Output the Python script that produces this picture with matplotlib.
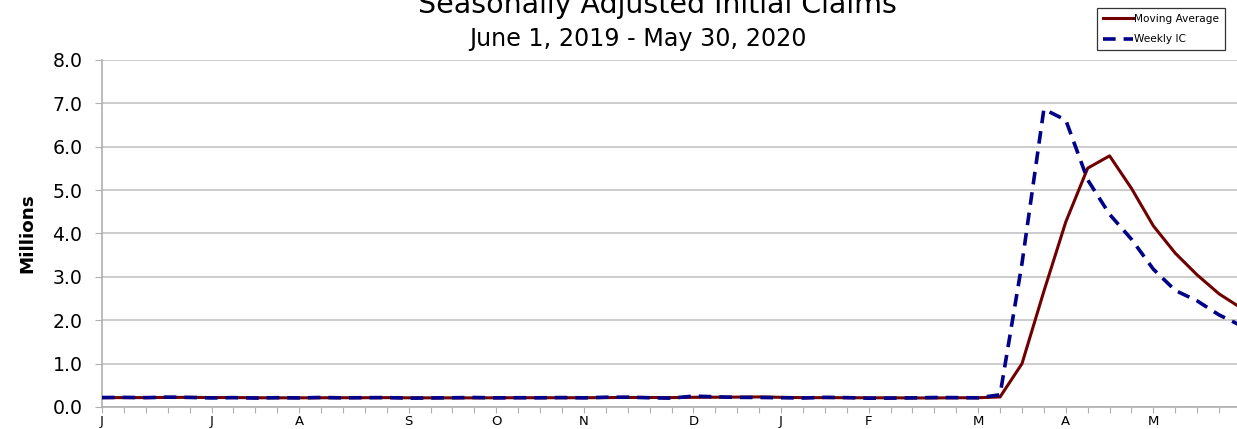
import numpy as np
import pandas as pd
import matplotlib
matplotlib.use('Agg')
import matplotlib.pyplot as plt

plt.rcParams['font.family'] = ['DejaVu Sans']

# Недели (окончание в субботу), 1 июня 2019 - 30 мая 2020
weeks = pd.date_range('2019-06-01', '2020-05-30', freq='W-SAT')

# Первичные заявки, млн (сезонно скорректированные)
weekly_ic = [0.218, 0.222, 0.216, 0.227, 0.221, 0.209, 0.216, 0.206, 0.215,
             0.209, 0.220, 0.211, 0.215, 0.217, 0.204, 0.208, 0.213, 0.219,
             0.210, 0.214, 0.212, 0.218, 0.211, 0.225, 0.227, 0.213, 0.203,
             0.252, 0.235, 0.222, 0.220, 0.214, 0.207, 0.223, 0.216, 0.203,
             0.205, 0.210, 0.219, 0.216, 0.211, 0.282, 3.307, 6.867, 6.615,
             5.237, 4.442, 3.867, 3.176, 2.687, 2.446, 2.123, 1.877]

# Скользящее среднее за 4 недели, млн
moving_avg = [0.215, 0.217, 0.217, 0.221, 0.222, 0.218, 0.218, 0.213, 0.212,
              0.212, 0.213, 0.214, 0.214, 0.216, 0.212, 0.211, 0.211, 0.211,
              0.213, 0.214, 0.214, 0.214, 0.214, 0.217, 0.220, 0.219, 0.217,
              0.224, 0.226, 0.228, 0.232, 0.223, 0.216, 0.216, 0.215, 0.212,
              0.212, 0.209, 0.209, 0.213, 0.214, 0.232, 0.998, 2.667, 4.266,
              5.506, 5.790, 5.040, 4.174, 3.546, 3.044, 2.608, 2.284]

x = np.arange(len(weeks))
month_labels = [d.strftime('%B')[0] if d.day <= 7 else '' for d in weeks]

fig = plt.figure(figsize=(12.37, 4.29), dpi=100)
ax = fig.add_axes([102 / 1237, 1 - 407 / 429, (1241 - 102) / 1237, (407 - 60) / 429])

ax.plot(x, moving_avg, color='#700000', lw=2.2, label='Moving Average', zorder=3)
ax.plot(x, weekly_ic, color='#000088', lw=2.6, dashes=(3.5, 2.2), label='Weekly IC', zorder=4)

ax.set_xlim(0, 52)
ax.set_ylim(0, 8)
ax.set_yticks(np.arange(0, 8.1, 1.0))
ax.set_yticklabels([f'{v:.1f}' for v in np.arange(0, 8.1, 1.0)], fontsize=13.6)
ax.set_xticks(x)
ax.set_xticklabels(month_labels, fontsize=9.5)
ax.tick_params(axis='y', length=5, color='#b0b0b0', pad=9)
ax.tick_params(axis='x', length=4, color='#b0b0b0', pad=1.5)
ax.grid(axis='y', color='#c4c4c4', lw=1.2)
ax.set_axisbelow(True)
for s in ['top', 'right']:
    ax.spines[s].set_visible(False)
for s in ['left', 'bottom']:
    ax.spines[s].set_color('#b0b0b0')
    ax.spines[s].set_linewidth(1.2)

ax.set_ylabel('Millions', fontsize=13.2, fontweight='bold')
ax.yaxis.set_label_coords(-0.058, 0.5)

fig.text(657 / 1237, 1 - 13 / 429, 'Seasonally Adjusted Initial Claims',
         ha='center', va='baseline', fontsize=20.5)
fig.text(638 / 1237, 1 - 46 / 429, 'June 1, 2019 - May 30, 2020',
         ha='center', va='baseline', fontsize=17.2)

leg = ax.legend(loc='upper left', bbox_to_anchor=(1097 / 1237, 1 - 8 / 429),
                bbox_transform=fig.transFigure, fontsize=7.6, frameon=True,
                fancybox=False, edgecolor='black', handlelength=2.9,
                handletextpad=0.1, borderaxespad=0, labelspacing=1.0,
                borderpad=0.55)
leg.get_frame().set_linewidth(0.9)

fig.savefig('out.png', dpi=100)
